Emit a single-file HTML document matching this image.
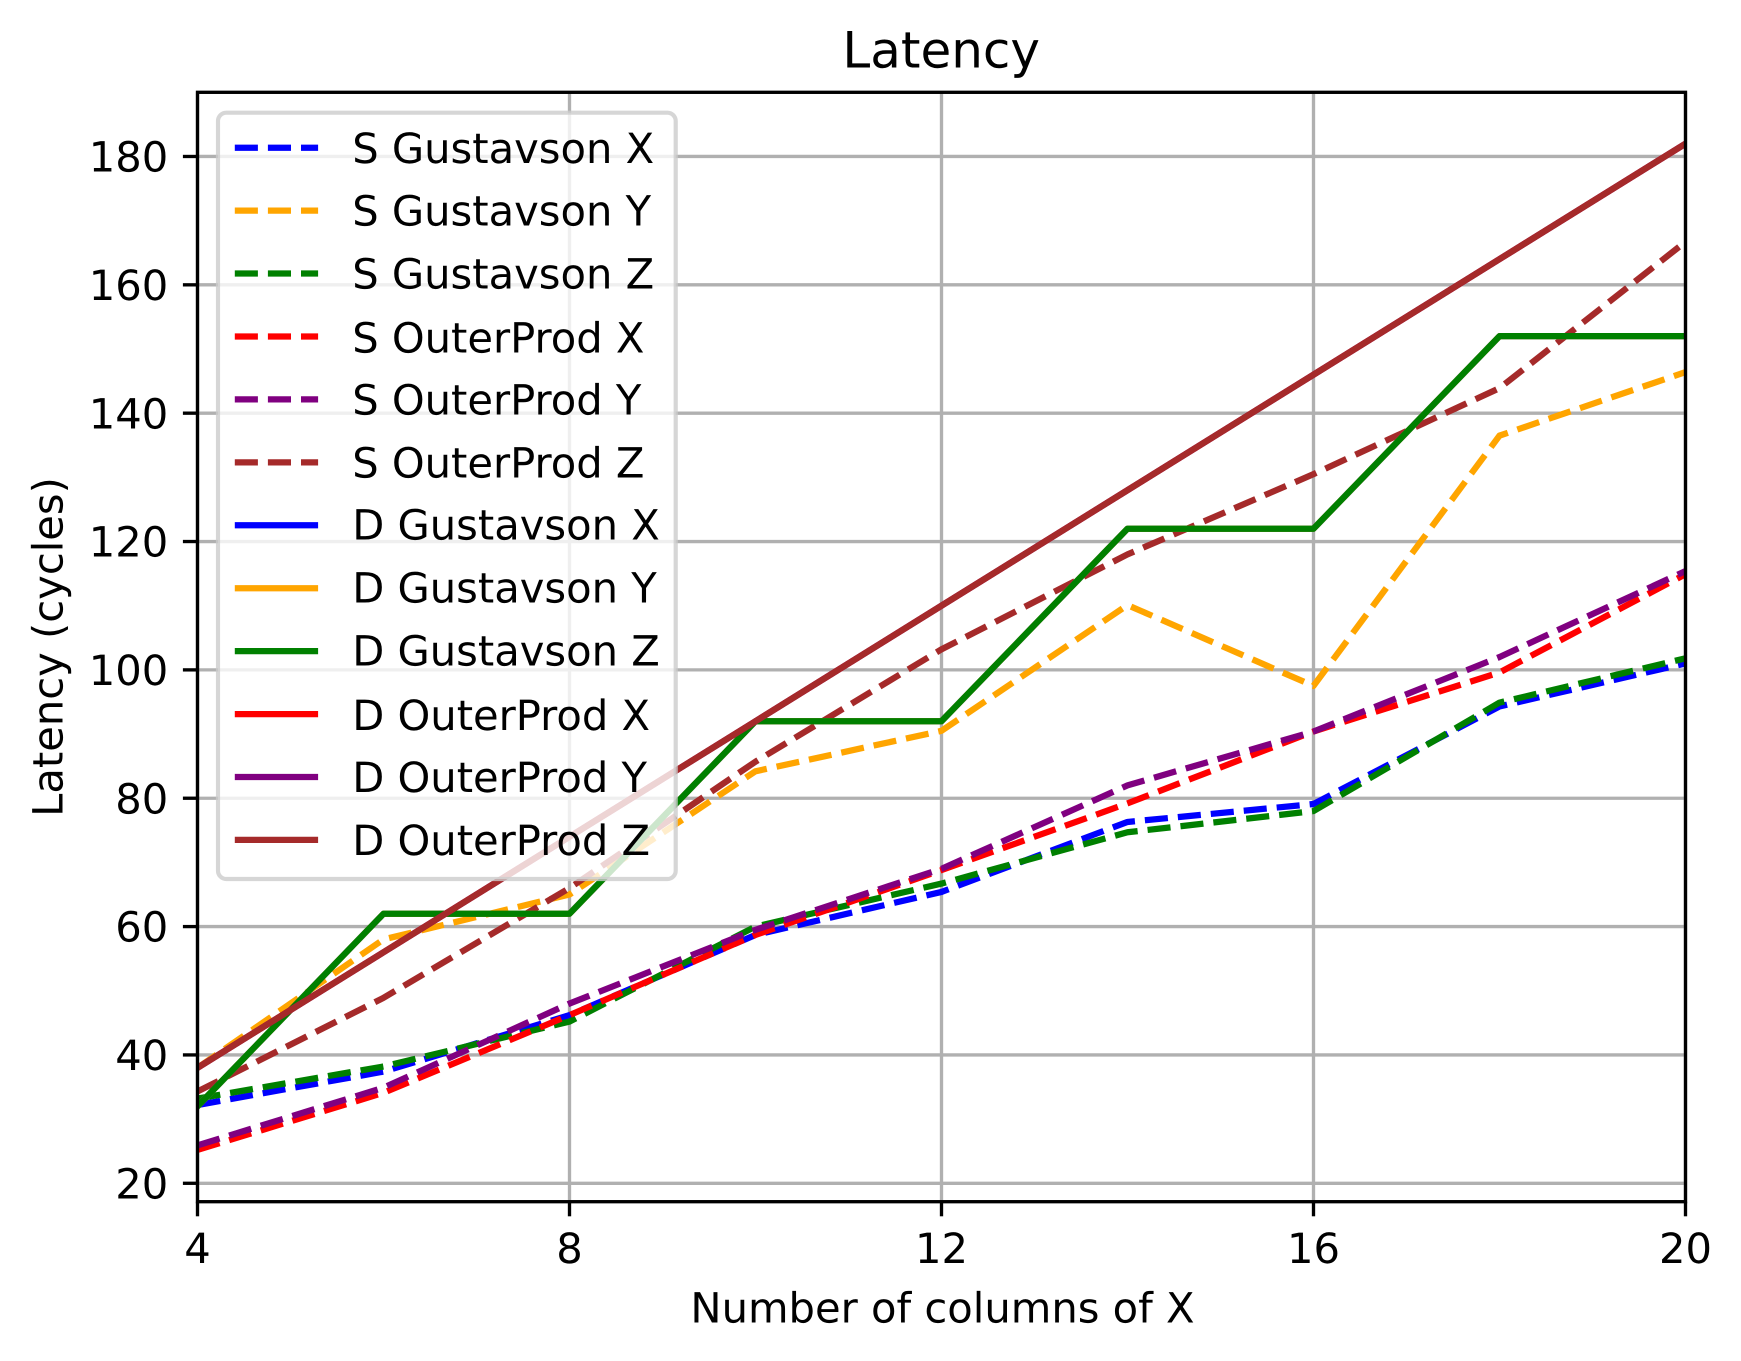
<!DOCTYPE html>
<html lang="en">
<head>
<meta charset="utf-8">
<title>Latency</title>
<style>
html,body{margin:0;padding:0;background:#fff;}
body{width:1741px;height:1361px;overflow:hidden;}
svg{display:block;}
text{font-family:"DejaVu Sans","Liberation Sans",sans-serif;fill:#000;text-rendering:geometricPrecision;}
</style>
</head>
<body>
<svg id="chart" xmlns="http://www.w3.org/2000/svg" width="1741" height="1361" viewBox="0 0 1741 1361">
  <defs><clipPath id="plot-clip"><rect x="197.5" y="92.3" width="1488" height="1109.4"></rect></clipPath></defs>
  <rect x="0" y="0" width="1741" height="1361" fill="#ffffff"></rect>
  <g id="grid"></g>
  <g id="series" clip-path="url(#plot-clip)"></g>
  <g id="axes"></g>
  <text x="941.2" y="67.7" font-size="50" text-anchor="middle">Latency</text>
  <text x="942.5" y="1322.7" font-size="41.67" text-anchor="middle">Number of columns of X</text>
  <text x="62.7" y="647" font-size="41.67" text-anchor="middle" transform="rotate(-90 62.7 647)">Latency (cycles)</text>
  <g id="legend"></g>
</svg>
<script>
var xTicks = [4, 8, 12, 16, 20];
var yTicks = [20, 40, 60, 80, 100, 120, 140, 160, 180];
var columns = [4, 6, 8, 10, 12, 14, 16, 18, 20];

var sGustavsonX = [32.2, 37.4, 46.2, 58.7, 65.4, 76.3, 79.1, 94.3, 101.0];
var sGustavsonY = [38.0, 58.0, 65.0, 84.2, 90.5, 110.1, 97.5, 136.5, 146.4];
var sGustavsonZ = [33.2, 38.2, 45.2, 60.0, 66.7, 74.7, 78.0, 94.9, 101.8];
var sOuterProdX = [25.2, 34.1, 46.2, 58.7, 68.8, 79.2, 90.4, 99.6, 114.9];
var sOuterProdY = [25.9, 34.9, 48.0, 59.5, 69.0, 82.0, 90.4, 102.0, 115.4];
var sOuterProdZ = [34.3, 48.9, 66.0, 85.7, 103.2, 118.0, 130.5, 143.9, 166.7];
var dGustavsonX = [32, 62, 62, 92, 92, 122, 122, 152, 152];
var dGustavsonY = [32, 62, 62, 92, 92, 122, 122, 152, 152];
var dGustavsonZ = [32, 62, 62, 92, 92, 122, 122, 152, 152];
var dOuterProdX = [38, 56, 74, 92, 110, 128, 146, 164, 182];
var dOuterProdY = [38, 56, 74, 92, 110, 128, 146, 164, 182];
var dOuterProdZ = [38, 56, 74, 92, 110, 128, 146, 164, 182];

var seriesLabels = ['S Gustavson X', 'S Gustavson Y', 'S Gustavson Z', 'S OuterProd X', 'S OuterProd Y', 'S OuterProd Z', 'D Gustavson X', 'D Gustavson Y', 'D Gustavson Z', 'D OuterProd X', 'D OuterProd Y', 'D OuterProd Z'];
var seriesValues = [sGustavsonX, sGustavsonY, sGustavsonZ, sOuterProdX, sOuterProdY, sOuterProdZ, dGustavsonX, dGustavsonY, dGustavsonZ, dOuterProdX, dOuterProdY, dOuterProdZ];

var NS = 'http://www.w3.org/2000/svg';
var LINE_WIDTH = 6.25;
var DASH = '23.1 10';
var palette = ['#0000ff', '#ffa500', '#008000', '#ff0000', '#800080', '#a52a2a'];
var PLOT = {left: 197.5, right: 1685.5, top: 92.3, bottom: 1201.7};
var X_MIN = 4, X_MAX = 20, Y_MIN = 17.13, Y_MAX = 190;

function xScale(v) {
  return PLOT.left + (v - X_MIN) / (X_MAX - X_MIN) * (PLOT.right - PLOT.left);
}
function yScale(v) {
  return PLOT.bottom - (v - Y_MIN) / (Y_MAX - Y_MIN) * (PLOT.bottom - PLOT.top);
}
function slug(s) {
  return s.toLowerCase().replace(/\s+/g, '-');
}
function make(tag, parent, attrs) {
  var el = document.createElementNS(NS, tag);
  for (var k in attrs) { el.setAttribute(k, attrs[k]); }
  parent.appendChild(el);
  return el;
}
function legendTextNudge(i) {
  if (i === 3 || i === 9) { return 0.7; }
  if (i >= 6 && i <= 8) { return -0.7; }
  return 0;
}

var gridGroup = document.getElementById('grid');
var seriesGroup = document.getElementById('series');
var axesGroup = document.getElementById('axes');
var legendGroup = document.getElementById('legend');

xTicks.forEach(function (t) {
  var gx = make('line', gridGroup, {x1: xScale(t), x2: xScale(t), y1: PLOT.top, y2: PLOT.bottom, stroke: '#b0b0b0', 'stroke-width': 3.33});
  
  
});
yTicks.forEach(function (t) {
  var gy = make('line', gridGroup, {x1: PLOT.left, x2: PLOT.right, y1: yScale(t), y2: yScale(t), stroke: '#b0b0b0', 'stroke-width': 3.33});
  
  
});

seriesValues.forEach(function (values, i) {
  var pts = values.map(function (v, j) { return xScale(columns[j]) + ',' + yScale(v); }).join(' ');
  var line = make('polyline', seriesGroup, {points: pts, fill: 'none', stroke: palette[i % 6], 'stroke-width': LINE_WIDTH, 'stroke-linejoin': 'round', 'stroke-linecap': i < 6 ? 'butt' : 'square'});
  if (i < 6) { line.setAttribute('stroke-dasharray', DASH); }
  
  
});

xTicks.forEach(function (t) {
  var tick = make('line', axesGroup, {x1: xScale(t), x2: xScale(t), y1: PLOT.bottom, y2: PLOT.bottom + 14.6, stroke: '#000', 'stroke-width': 3.33});
  
  
  var lab = make('text', axesGroup, {x: xScale(t), y: 1263, 'font-size': 41.67, 'text-anchor': 'middle'});
  lab.textContent = t;
  
  
});
yTicks.forEach(function (t) {
  var tick = make('line', axesGroup, {x1: PLOT.left - 14.6, x2: PLOT.left, y1: yScale(t), y2: yScale(t), stroke: '#000', 'stroke-width': 3.33});
  
  
  var lab = make('text', axesGroup, {x: 168.3, y: yScale(t) + 15.1, 'font-size': 41.67, 'text-anchor': 'end'});
  lab.textContent = t;
  
  
});
var spines = make('rect', axesGroup, {x: PLOT.left, y: PLOT.top, width: PLOT.right - PLOT.left, height: PLOT.bottom - PLOT.top, fill: 'none', stroke: '#000', 'stroke-width': 3.33});



var legendBox = make('rect', legendGroup, {x: 218, y: 112.7, width: 457.7, height: 766.3, rx: 8.3, ry: 8.3, fill: 'rgba(255,255,255,0.8)', stroke: 'rgba(204,204,204,0.8)', 'stroke-width': 4.17});



seriesLabels.forEach(function (label, i) {
  var rowY = 147.7 + i * 62.93;
  var row = make('g', legendGroup, {});
  
  
  var handle = make('line', row, {x1: 234.8, x2: 318.1, y1: rowY, y2: rowY, stroke: palette[i % 6], 'stroke-width': LINE_WIDTH});
  if (i < 6) { handle.setAttribute('stroke-dasharray', DASH); }
  
  
  var text = make('text', row, {x: 352.2, y: rowY + 15.1 + legendTextNudge(i), 'font-size': 41.67});
  text.textContent = label;
  
  
});
</script>
</body>
</html>
